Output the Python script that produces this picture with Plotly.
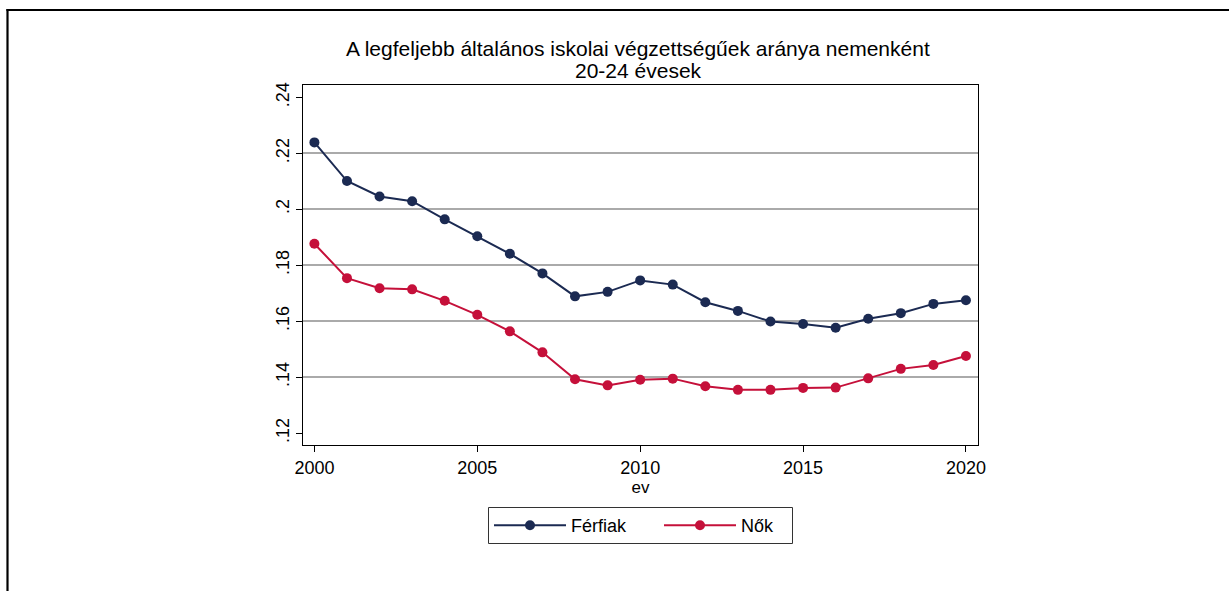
import plotly.graph_objects as go

years = list(range(2000, 2021))
ferfiak = [0.2239, 0.2101, 0.2046, 0.2029, 0.1964, 0.1904, 0.1841, 0.1771, 0.1689, 0.1705,
           0.1746, 0.1731, 0.1668, 0.1637, 0.1599, 0.1590, 0.1577, 0.1609, 0.1629, 0.1662, 0.1675]
nok = [0.1877, 0.1754, 0.1718, 0.1714, 0.1673, 0.1623, 0.1564, 0.1489, 0.1393, 0.1371,
       0.1391, 0.1395, 0.1368, 0.1355, 0.1355, 0.1362, 0.1363, 0.1396, 0.1430, 0.1444, 0.1476]
y_ticks = [0.12, 0.14, 0.16, 0.18, 0.20, 0.22, 0.24]
y_ticklabels = [".12", ".14", ".16", ".18", ".2", ".22", ".24"]
grid_vals = [0.14, 0.16, 0.18, 0.20, 0.22]
x_ticks = [2000, 2005, 2010, 2015, 2020]
title_lines = ["A legfeljebb általános iskolai végzettségűek aránya nemenként", "20-24 évesek"]

NAVY = "#1b2a52"
RED = "#c5103a"
FONT = "Arial, Liberation Sans, sans-serif"

W, H = 1229, 591
L, R, T, B = 303, 978, 85, 445
YR = [0.1158, 0.2444]
XR = [1999.65, 2020.37]

fig = go.Figure()
fig.add_trace(go.Scatter(x=[years[0]], y=[grid_vals[0]], mode="markers",
                         marker=dict(opacity=0), showlegend=False, hoverinfo="skip",
                         xaxis="x", yaxis="y2"))
fig.add_trace(go.Scatter(x=years, y=ferfiak, mode="lines+markers", name="Férfiak",
                         line=dict(color=NAVY, width=2), legend="legend",
                         marker=dict(color=NAVY, size=10)))
fig.add_trace(go.Scatter(x=years, y=nok, mode="lines+markers", name="Nők",
                         line=dict(color=RED, width=2), legend="legend2",
                         marker=dict(color=RED, size=10)))

def px2paper_x(px):
    return (px - L) / (R - L)

def px2paper_y(py):
    return (B - py) / (B - T)

shapes = [
    dict(type="line", xref="paper", yref="paper",
         x0=px2paper_x(7.5), x1=px2paper_x(7.5), y0=px2paper_y(9), y1=px2paper_y(700),
         line=dict(color="black", width=2.2)),
    dict(type="line", xref="paper", yref="paper",
         x0=px2paper_x(6.4), x1=px2paper_x(1300), y0=px2paper_y(10), y1=px2paper_y(10),
         line=dict(color="black", width=2.2)),
    # legend frame
    dict(type="rect", xref="paper", yref="paper",
         x0=px2paper_x(488.5), x1=px2paper_x(792.5), y0=px2paper_y(507.5), y1=px2paper_y(543.5),
         line=dict(color="#333333", width=1), fillcolor="rgba(0,0,0,0)"),
]

annotations = [
    dict(text=title_lines[0], xref="paper", yref="paper", x=px2paper_x(638), y=px2paper_y(49),
         xanchor="center", yanchor="middle", showarrow=False,
         font=dict(family=FONT, size=21, color="black")),
    dict(text=title_lines[1], xref="paper", yref="paper", x=px2paper_x(638), y=px2paper_y(71),
         xanchor="center", yanchor="middle", showarrow=False,
         font=dict(family=FONT, size=21, color="black")),
]

leg_common = dict(orientation="h", yanchor="middle", borderwidth=0, bgcolor="rgba(0,0,0,0)",
                  font=dict(family=FONT, size=18, color="black"), itemwidth=72)

fig.update_layout(
    width=W, height=H,
    margin=dict(l=L, r=W - R, t=T, b=H - B, pad=0),
    paper_bgcolor="white", plot_bgcolor="white",
    font=dict(family=FONT, size=18, color="black"),
    xaxis=dict(range=XR, tickvals=x_ticks, ticks="outside", ticklen=6, tickcolor="black",
               tickwidth=1, showgrid=False, zeroline=False, showline=True, linecolor="black",
               linewidth=1.2, mirror=True,
               title=dict(text="ev", standoff=0, font=dict(size=17)),
               tickfont=dict(size=18)),
    yaxis=dict(range=YR, tickvals=y_ticks, ticktext=y_ticklabels, ticks="outside", ticklen=6,
               tickcolor="black", tickwidth=1, tickangle=-90, showgrid=False, zeroline=False,
               showline=True, linecolor="black", linewidth=1.2, mirror=True,
               tickfont=dict(size=18)),
    yaxis2=dict(range=YR, overlaying="y", tickvals=grid_vals, showticklabels=False,
                showgrid=True, gridcolor="#aaaaaa", gridwidth=2, zeroline=False, showline=False,
                ticks=""),
    legend=dict(x=px2paper_x(489), xanchor="left", y=px2paper_y(525.5), **leg_common),
    legend2=dict(x=px2paper_x(659), xanchor="left", y=px2paper_y(525.5), **leg_common),
    shapes=shapes,
    annotations=annotations,
    showlegend=True,
)

fig.write_html("out.html", config={"displayModeBar": False})
with open("out.html", "r", encoding="utf-8") as f:
    html = f.read()
html = html.replace("<head>", "<head><style>html,body{margin:0;padding:0;overflow:hidden;}</style>", 1)
with open("out.html", "w", encoding="utf-8") as f:
    f.write(html)
